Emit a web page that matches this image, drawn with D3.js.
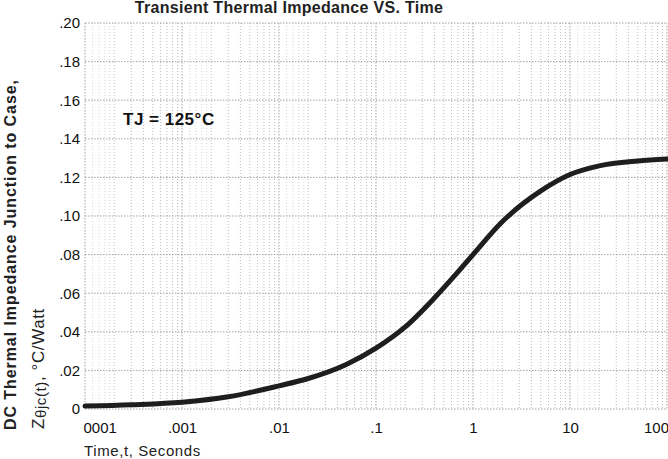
<!DOCTYPE html>
<html>
<head>
<meta charset="utf-8">
<script src="https://cdn.jsdelivr.net/npm/d3@7"></script>
<style>
  body { margin: 0; background: #fff; }
  svg { display: block; font-family: "Liberation Sans", Arial, sans-serif; }
</style>
</head>
<body>
<svg id="chart" width="668" height="459"></svg>
<script>
// data
const timeTicks = [1e-4, 1e-3, 1e-2, 1e-1, 1, 10, 100];
const timeLabels = ["0001", ".001", ".01", ".1", "1", "10", "100"];
const zTicks = [0, 0.02, 0.04, 0.06, 0.08, 0.10, 0.12, 0.14, 0.16, 0.18, 0.20];
const zLabels = ["0", ".02", ".04", ".06", ".08", ".10", ".12", ".14", ".16", ".18", ".20"];

// Z(t) curve, t in seconds, Z in C/W
const curveT = [1e-4, 3e-4, 1e-3, 3e-3, 1e-2, 2e-2, 5e-2, 0.1, 0.2, 0.4, 0.7, 1, 2, 5, 10, 20, 50, 100];
const curveZ = [0.0015, 0.0022, 0.0035, 0.0063, 0.0120, 0.0158, 0.0232, 0.0315, 0.0425, 0.0575, 0.0710, 0.0800, 0.0970, 0.1130, 0.1215, 0.1260, 0.1285, 0.1295];

const svg = d3.select('#chart');

const x = d3.scaleLog().domain([1e-4, 100]).range([85, 667]);
const y = d3.scaleLinear().domain([0, 0.2]).range([409, 23]);

// log paper grid
const grid = svg.append('g');
const minorX = [];
const majorX = [];
for (let k = -4; k < 2; k++) {
  const base = Math.pow(10, k);
  [1.2, 1.4, 1.6, 1.8].forEach(m => minorX.push(m * base));
  for (let m = 2; m <= 9; m++) majorX.push(m * base);
}

grid.selectAll('.vminor')
  .data(minorX)
  .enter().append('line')
  .attr('x1', d => x(d)).attr('x2', d => x(d))
  .attr('y1', y(0.2)).attr('y2', y(0))
  .attr('stroke', '#c4c4c4')
  .attr('stroke-width', 0.7)
  .attr('stroke-dasharray', '1,2');

grid.selectAll('.vmajor')
  .data(majorX)
  .enter().append('line')
  .attr('x1', d => x(d)).attr('x2', d => x(d))
  .attr('y1', y(0.2)).attr('y2', y(0))
  .attr('stroke', '#ababab')
  .attr('stroke-width', 0.8)
  .attr('stroke-dasharray', '1,2');

grid.selectAll('.vdecade')
  .data(timeTicks)
  .enter().append('line')
  .attr('x1', d => x(d)).attr('x2', d => x(d))
  .attr('y1', y(0.2)).attr('y2', y(0))
  .attr('stroke', '#999')
  .attr('stroke-width', 0.9)
  .attr('stroke-dasharray', '1.5,1.5');

grid.selectAll('.hline')
  .data(zTicks)
  .enter().append('line')
  .attr('x1', x(1e-4)).attr('x2', x(100))
  .attr('y1', d => y(d)).attr('y2', d => y(d))
  .attr('stroke', '#999')
  .attr('stroke-width', 0.9)
  .attr('stroke-dasharray', '1.5,1.5');

// curve
const line = d3.line()
  .x((d, i) => x(curveT[i]))
  .y(d => y(d))
  .curve(d3.curveMonotoneX);

svg.append('path')
  .datum(curveZ)
  .attr('fill', 'none')
  .attr('stroke', '#1e1e1e')
  .attr('stroke-width', 5)
  .attr('stroke-linecap', 'round')
  .attr('d', line);

// axes
const xAxis = svg.append('g')
  .attr('transform', `translate(0,${y(0)})`)
  .call(d3.axisBottom(x)
    .tickValues(timeTicks)
    .tickFormat((d, i) => timeLabels[i])
    .tickSize(0)
    .tickPadding(13));
xAxis.select('.domain').remove();
xAxis.selectAll('text')
  .attr('font-size', 15)
  .attr('font-family', '"Liberation Sans", Arial, sans-serif')
  .attr('fill', '#111')
  .attr('text-anchor', (d, i) => i === 0 ? 'start' : 'middle')
  .attr('dx', (d, i) => i === 0 ? -2 : (i === timeTicks.length - 1 ? -11 : 0));

const yAxis = svg.append('g')
  .attr('transform', `translate(${x(1e-4)},0)`)
  .call(d3.axisLeft(y)
    .tickValues(zTicks)
    .tickFormat((d, i) => zLabels[i])
    .tickSize(0)
    .tickPadding(5));
yAxis.select('.domain').remove();
yAxis.selectAll('text')
  .attr('font-size', 15)
  .attr('font-family', '"Liberation Sans", Arial, sans-serif')
  .attr('fill', '#111');

// titles
svg.append('text')
  .attr('x', 289)
  .attr('y', 13)
  .attr('text-anchor', 'middle')
  .attr('font-size', 16)
  .attr('font-weight', 'bold')
  .attr('letter-spacing', 0.3)
  .attr('fill', '#222')
  .text('Transient Thermal Impedance VS. Time');

svg.append('text')
  .attr('x', 84)
  .attr('y', 456)
  .attr('font-size', 15)
  .attr('fill', '#222')
  .attr('letter-spacing', 0.6)
  .text('Time,t, Seconds');

svg.append('text')
  .attr('transform', 'translate(16,430) rotate(-90)')
  .attr('font-size', 16)
  .attr('font-weight', 'bold')
  .attr('fill', '#222')
  .attr('textLength', 350)
  .attr('lengthAdjust', 'spacing')
  .text('DC Thermal Impedance Junction to Case,');

const zLabel = svg.append('text')
  .attr('transform', 'translate(44,429) rotate(-90)')
  .attr('font-size', 17)
  .attr('letter-spacing', 0.6)
  .attr('fill', '#222');
zLabel.append('tspan').text('Z');
zLabel.append('tspan').attr('font-size', 15).attr('dy', 2).text('θjc(t)');
zLabel.append('tspan').attr('dy', -2).text(',  °C/Watt');

svg.append('text')
  .attr('x', 123)
  .attr('y', 125)
  .attr('font-size', 17)
  .attr('font-weight', 'bold')
  .attr('fill', '#111')
  .attr('letter-spacing', 0.5)
  .text('TJ = 125°C');
</script>
</body>
</html>
